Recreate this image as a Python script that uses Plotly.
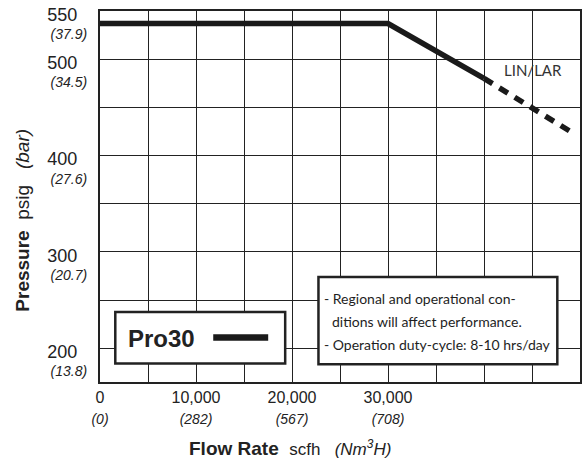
import plotly.graph_objects as go

# ---- data ----
flow_solid = [0, 30000, 40000]
pressure_solid = [537, 537, 480]
flow_dashed = [40000, 49000]
pressure_dashed = [480, 425]

x_tick_vals = [0, 5000, 10000, 15000, 20000, 25000, 30000, 35000, 40000, 45000, 50000]
x_tick_main = ["0", "", "10,000", "", "20,000", "", "30,000", "", "", "", ""]
x_tick_sub = ["(0)", "", "(282)", "", "(567)", "", "(708)", "", "", "", ""]

y_tick_vals = [200, 250, 300, 350, 400, 450, 500, 550]
y_tick_main = ["200", "", "300", "", "400", "", "500", "550"]
y_tick_sub = ["(13.8)", "", "(20.7)", "", "(27.6)", "", "(34.5)", "(37.9)"]

note_lines = [
    "- Regional and operational con-",
    "ditions will affect performance.",
    "- Operation duty-cycle: 8-10 hrs/day",
]

# ---- layout geometry helpers (pixel -> paper) ----
W, H = 582, 459
L, R, T, B = 99.7, 580.0, 10.7, 381.7
def px(x):
    return (x - L) / (R - L)
def py(y):
    return (B - y) / (B - T)

xt = [f"{m}<br><span style='font-size:14px'><i>{s}</i></span>" if m else "" for m, s in zip(x_tick_main, x_tick_sub)]
yt = [f"<span style='font-size:18px'>{m}\u00a0\u00a0</span><br><i>{s}</i>" if m else "" for m, s in zip(y_tick_main, y_tick_sub)]

ink = "#222222"
fig = go.Figure()
fig.add_trace(go.Scatter(x=flow_solid, y=pressure_solid, mode="lines",
                         line=dict(color="#1a1a1a", width=5.5), showlegend=False))
fig.add_trace(go.Scatter(x=flow_dashed, y=pressure_dashed, mode="lines",
                         line=dict(color="#1a1a1a", width=5.5, dash="10px,8px"), showlegend=False))

fig.update_layout(
    width=W, height=H,
    margin=dict(l=L, r=W - R, t=T, b=H - B, pad=0, autoexpand=False),
    paper_bgcolor="white", plot_bgcolor="white",
    font=dict(family="Arial, Liberation Sans, sans-serif", color="#222"),
    xaxis=dict(range=[0, 50000], tickmode="array", tickvals=x_tick_vals, ticktext=xt,
               showgrid=True, gridcolor=ink, gridwidth=1.3, zeroline=False,
               showline=True, linecolor=ink, linewidth=2, mirror=True,
               ticks="", tickfont=dict(size=16, color="#222"), tickangle=0,
               ticklabeloverflow="allow"),
    yaxis=dict(range=[165, 550], tickmode="array", tickvals=y_tick_vals, ticktext=yt,
               showgrid=True, gridcolor=ink, gridwidth=1.3, zeroline=False,
               showline=True, linecolor=ink, linewidth=2, mirror=True,
               ticks="", tickfont=dict(size=14, color="#222"), ticklabelshift=14,
               ticklabelstandoff=8, ticklabeloverflow="allow"),
)

shapes = []
# Pro30 legend box
shapes.append(dict(type="rect", xref="paper", yref="paper", x0=px(115), x1=px(285),
                   y0=py(363.3), y1=py(311.7), fillcolor="white",
                   line=dict(color=ink, width=2.5), layer="above"))
shapes.append(dict(type="line", xref="paper", yref="paper", x0=px(213), x1=px(268),
                   y0=py(337.3), y1=py(337.3), line=dict(color="#1a1a1a", width=6.5), layer="above"))
# Note box
shapes.append(dict(type="rect", xref="paper", yref="paper", x0=px(318.3), x1=px(557.3),
                   y0=py(364), y1=py(276.7), fillcolor="white",
                   line=dict(color=ink, width=2.5), layer="above"))
fig.update_layout(shapes=shapes)

ann = []
ann.append(dict(text="<b>Pro30</b>", xref="paper", yref="paper", x=px(161.7), y=py(338),
                xanchor="center", yanchor="middle",
                showarrow=False, font=dict(size=24, color="#222")))
note_x = [322, 329.5, 322]
note_y = [298, 320.7, 344]
for t, xx, yy in zip(note_lines, note_x, note_y):
    ann.append(dict(text=t, xref="paper", yref="paper", x=px(xx), y=py(yy), xanchor="left",
                    yanchor="middle", showarrow=False,
                    font=dict(family="Lato, Open Sans, sans-serif", size=14, color="#1e1e1e")))
ann.append(dict(text="LIN/LAR", xref="paper", yref="paper", x=px(533), y=py(70),
                xanchor="center", yanchor="middle",
                showarrow=False, font=dict(family="Lato, Open Sans, sans-serif", size=15, color="#333")))
ann.append(dict(text="<b>Flow Rate</b>\u00a0\u00a0<span style='font-size:17px'>scfh\u00a0\u00a0\u00a0<i>(Nm<sup>3</sup>H)</i></span>",
                xref="paper", yref="paper", x=px(187), y=py(448), showarrow=False,
                xanchor="left", yanchor="middle",
                font=dict(size=19, color="#222")))
ann.append(dict(text="<b>Pressure</b>\u00a0\u00a0psig\u00a0\u00a0\u00a0<i>(bar)</i>",
                xref="paper", yref="paper", x=px(22), y=py(220), showarrow=False, textangle=-90,
                xanchor="center", yanchor="middle",
                font=dict(size=19, color="#222")))
fig.update_layout(annotations=ann)

fig.write_html("out.html", config={"displayModeBar": False},
               post_script="document.body.style.margin='0';document.body.style.padding='0';")
